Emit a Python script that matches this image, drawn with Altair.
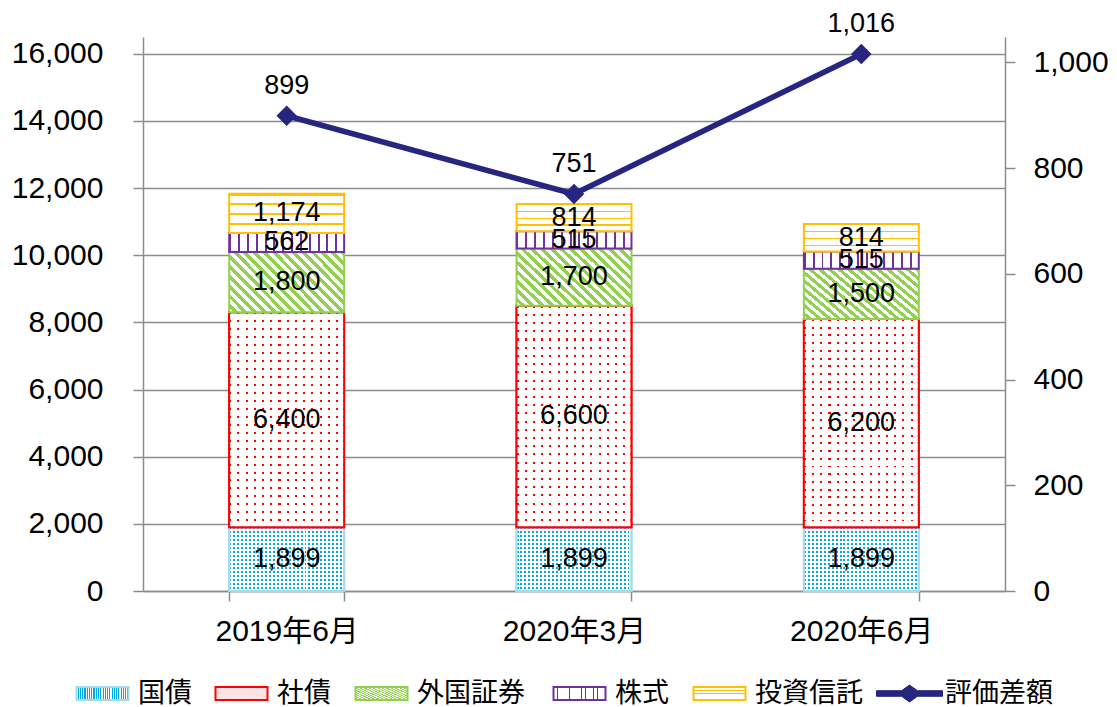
import altair as alt
import pandas as pd

# ---------------- data ----------------
dates = ["2019年6月", "2020年3月", "2020年6月"]
series = ["国債", "社債", "外国証券", "株式", "投資信託"]
kokusai = [1899, 1899, 1899]
shasai = [6400, 6600, 6200]
gaikoku = [1800, 1700, 1500]
kabushiki = [562, 515, 515]
toushin = [1174, 814, 814]
line_name = "評価差額"
hyoka = [899, 751, 1016]

left_ticks = [0, 2000, 4000, 6000, 8000, 10000, 12000, 14000, 16000]
right_ticks = [0, 200, 400, 600, 800, 1000]

values_by_series = [kokusai, shasai, gaikoku, kabushiki, toushin]
rows = []
for si, (s, vals) in enumerate(zip(series, values_by_series)):
    for d, v in zip(dates, vals):
        rows.append({"date": d, "series": s, "ord": si, "value": v})
bars_df = pd.DataFrame(rows)
line_df = pd.DataFrame({"date": dates, "v": hyoka, "name": [line_name] * len(dates)})

# ---------------- styles ----------------
FONT = "Liberation Sans, Noto Sans CJK JP"
GRAY = "#8c8c8c"
C_KOKU = "#00A9E6"
C_SHA = "#FF0000"
C_GAI = "#92D050"
C_KABU = "#7030A0"
C_TOU = "#FFC000"
C_LINE = "#262680"
CLEAR = "rgba(255,255,255,0)"
stroke_color = {"国債": "#A6DBEA", "社債": C_SHA, "外国証券": C_GAI, "株式": C_KABU, "投資信託": C_TOU}


def stripes(n, frac, on, off, x1, y1, x2, y2):
    stops = []
    for i in range(n):
        a = round(i / n, 5)
        b = round((i + frac) / n, 5)
        c = round((i + 1) / n, 5)
        stops += [
            {"offset": a, "color": on},
            {"offset": b, "color": on},
            {"offset": b, "color": off},
            {"offset": c, "color": off},
        ]
    return {"gradient": "linear", "x1": x1, "y1": y1, "x2": x2, "y2": y2, "stops": stops}


base_fill = {
    "国債": stripes(29, 0.5, C_KOKU, "white", 0, 0, 1, 0),
    "社債": stripes(14, 0.25, C_SHA, "white", 0, 0, 1, 0),
    "外国証券": stripes(18, 0.5, C_GAI, "white", 1, 0, -0.2, 0.624),
    "株式": stripes(13, 0.22, C_KABU, "white", 0, 0, 1, 0),
    "投資信託": stripes(4, 0.2, C_TOU, "white", 0, 0, 0, 1),
}
mask_fill = {
    "国債": stripes(16, 0.5, CLEAR, "white", 0, 0, 0, 1),
    "社債": stripes(27, 0.25, CLEAR, "white", 0, 0, 0, 1),
}
# legend symbols that cannot reuse the bar pattern get a tint of their own
legend_only_fill = {"社債": "#FFE2E2"}
legend_x = {"国債": -70, "社債": 69, "外国証券": 209, "株式": 407, "投資信託": 547, "評価差額": 737}
LEGEND_Y = 643
RECT_PATH = "M-2.6,-0.65L2.6,-0.65L2.6,0.65L-2.6,0.65Z"
LINE_PATH = ("M-3.3,-0.28L-0.8,-0.28L0,-0.85L0.8,-0.28L3.3,-0.28L3.3,0.28"
             "L0.8,0.28L0,0.85L-0.8,0.28L-3.3,0.28Z")

# ---------------- encodings ----------------
x_enc = alt.X(
    "date:N", sort=dates,
    scale=alt.Scale(domain=dates, paddingInner=0.6, paddingOuter=0.3),
    axis=alt.Axis(title=None, labelAngle=0, tickBand="extent", tickSize=10,
                  labelFontSize=30, labelPadding=15, labelColor="black",
                  domainColor=GRAY, tickColor=GRAY, domainWidth=1.5, tickWidth=1.5,
                  grid=False),
)
y_left_axis = alt.Axis(title=None, values=left_ticks, format=",.0f", labelFontSize=30,
                       labelColor="black", tickSize=10, labelPadding=30,
                       grid=True, gridColor=GRAY, gridWidth=1.5,
                       domainColor=GRAY, tickColor=GRAY, domainWidth=1.5, tickWidth=1.5)
y_left_scale = alt.Scale(domain=[0, 16500], nice=False, zero=True)


def yl(field):
    return alt.Y(field, scale=y_left_scale, axis=y_left_axis)


def legend_for(name, **kw):
    return alt.Legend(
        orient="none", legendX=legend_x[name], legendY=LEGEND_Y, title=None,
        labelFontSize=27, labelFont=FONT, labelColor="black",
        symbolSize=400, symbolOffset=16, labelOffset=22, **kw,
    )


def stroke_enc(s):
    return alt.Stroke("series:N",
                      scale=alt.Scale(domain=[s], range=[stroke_color[s]]),
                      legend=legend_for(s, symbolType=RECT_PATH, symbolStrokeWidth=2))


base = alt.Chart(bars_df).transform_stack(
    stack="value", groupby=["date"], as_=["y0", "y1"],
    sort=[alt.SortField(field="ord", order="ascending")],
)

layers = []
for s in series:
    bar = base.transform_filter(alt.datum.series == s)
    if s in legend_only_fill:
        layers.append(
            bar.mark_bar(fill=base_fill[s], stroke=stroke_color[s], strokeWidth=2)
            .encode(x=x_enc, y=yl("y1:Q"), y2="y0:Q")
        )
        # empty layer that only carries this series' legend entry
        layers.append(
            base.transform_filter("false")
            .mark_bar(fill=legend_only_fill[s], strokeWidth=2)
            .encode(x=x_enc, y=yl("y1:Q"), y2="y0:Q", stroke=stroke_enc(s))
        )
    else:
        layers.append(
            bar.mark_bar(fill=base_fill[s], strokeWidth=2)
            .encode(x=x_enc, y=yl("y1:Q"), y2="y0:Q", stroke=stroke_enc(s))
        )
    if s in mask_fill:
        layers.append(
            bar.mark_bar(fill=mask_fill[s], stroke=stroke_color[s], strokeWidth=2)
            .encode(x=x_enc, y=yl("y1:Q"), y2="y0:Q")
        )

bar_text = base.transform_calculate(mid="(datum.y0 + datum.y1) / 2").mark_text(
    fontSize=27, color="black", font=FONT
).encode(x=x_enc, y=yl("mid:Q"), text=alt.Text("value:Q", format=","))
layers.append(bar_text)

left_group = alt.layer(*layers).resolve_scale(stroke="independent")

y_right = alt.Y(
    "v:Q", scale=alt.Scale(domain=[0, 1048], nice=False, zero=True),
    axis=alt.Axis(orient="right", title=None, values=right_ticks, format=",.0f",
                  labelFontSize=30, labelColor="black", tickSize=10, labelPadding=18,
                  grid=False, domainColor=GRAY, tickColor=GRAY,
                  domainWidth=1.5, tickWidth=1.5),
)
line_base = alt.Chart(line_df)
line = line_base.mark_line(strokeWidth=5.5).encode(
    x=x_enc, y=y_right,
    stroke=alt.Stroke("name:N", scale=alt.Scale(domain=[line_name], range=[C_LINE]),
                      legend=legend_for(line_name, symbolType=LINE_PATH,
                                        symbolFillColor=C_LINE, symbolStrokeWidth=1)),
)
pts = line_base.mark_point(shape="diamond", filled=True, color=C_LINE, size=420, opacity=1).encode(
    x=x_enc, y=y_right)
pt_text = line_base.mark_text(dy=-30, fontSize=27, color="black", font=FONT).encode(
    x=x_enc, y=y_right, text=alt.Text("v:Q", format=","))
right_group = alt.layer(line, pts, pt_text)

chart = (
    alt.layer(left_group, right_group)
    .resolve_scale(y="independent", stroke="independent")
    .properties(
        width=862, height=554,
        autosize=alt.AutoSizeParams(type="none"),
        padding={"left": 135, "top": 29, "right": 104, "bottom": 116},
    )
    .configure(font=FONT)
    .configure_view(strokeWidth=0)
)

chart.save("out.html", embed_options={"renderer": "svg", "actions": False})
